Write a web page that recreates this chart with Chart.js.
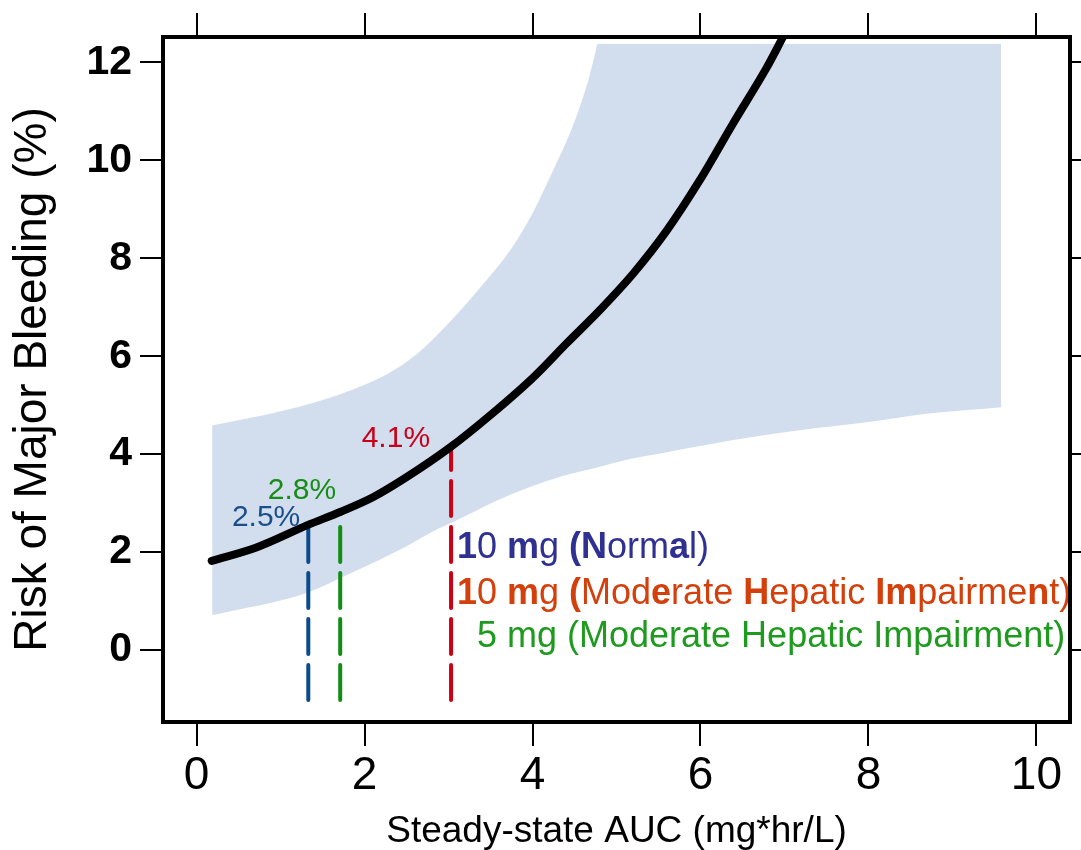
<!DOCTYPE html>
<html>
<head>
<meta charset="utf-8">
<script src="https://cdn.jsdelivr.net/npm/chart.js@4.4.1/dist/chart.umd.min.js"></script>
<style>
  html, body { margin: 0; padding: 0; background: #fff; }
  #wrap { width: 1081px; height: 850px; }
</style>
</head>
<body>
<div id="wrap"><canvas id="riskChart"></canvas></div>
<script>
// risk curve
const curveAuc  = [0.18, 0.72, 1.32, 1.71, 2.1, 2.5, 3.02, 3.5, 4.01, 4.41, 4.8, 5.2, 5.6, 5.99, 6.39, 6.79, 6.98];
const curveRisk = [1.82, 2.1, 2.55, 2.82, 3.12, 3.53, 4.14, 4.8, 5.57, 6.27, 6.94, 7.69, 8.57, 9.59, 10.76, 11.9, 12.51];

// confidence band
const bandUpAuc  = [0.185, 1.03, 1.71, 2.27, 2.62, 3.02, 3.41, 3.73, 4.0, 4.21, 4.47, 4.65, 4.74, 4.77, 9.58];
const bandUpRisk = [4.6, 4.9, 5.24, 5.65, 6.06, 6.73, 7.49, 8.18, 8.95, 9.7, 10.7, 11.6, 12.2, 12.39, 12.39];
const bandLoAuc  = [0.185, 1.3, 1.75, 2.5, 2.78, 3.17, 3.57, 3.97, 4.37, 4.77, 5.16, 5.6, 6.39, 7.18, 7.98, 8.77, 9.58];
const bandLoRisk = [0.71, 1.16, 1.5, 2.12, 2.39, 2.71, 3.05, 3.33, 3.56, 3.73, 3.9, 4.04, 4.29, 4.49, 4.65, 4.84, 4.96];

// dose markers (blue, green, red)
const doseAuc    = [1.33, 1.71, 3.03];
const doseTop    = [2.55, 2.62, 4.14];
const doseBottom = -1.02;
const doseLabels = ['2.5%', '2.8%', '4.1%'];

const legendLabels = ['10 mg (Normal)', '10 mg (Moderate Hepatic Impairment)', '5 mg (Moderate Hepatic Impairment)'];

const xTicks = [0, 2, 4, 6, 8, 10];
const yTicks = [0, 2, 4, 6, 8, 10, 12];

const xy = (xs, ys) => xs.map((x, i) => ({ x: x, y: ys[i] }));

const doseColors  = ['#0b4a8b', '#128c12', '#cc0014'];
const labelColors = ['#1a4f8c', '#178d17', '#c8001a'];

// drawn bottom -> top so the dash pattern starts at the bottom end
const doseSets = doseAuc.map((x, i) => ({
  data: [{ x: x, y: doseBottom }, { x: x, y: doseTop[i] }],
  showLine: true,
  borderColor: doseColors[i],
  borderWidth: 4,
  borderDash: [35, 11],
  borderCapStyle: 'round',
  pointRadius: 0,
  fill: false
}));

// text annotations + box + mirrored ticks
const decorPlugin = {
  id: 'decor',
  afterDatasetsDraw(chart) {
    const { ctx, chartArea: a, scales: { x, y } } = chart;
    ctx.save();

    // percent labels next to line tops
    const offs = [[-8, -7], [-4, -31], [-21, -9]];
    ctx.font = '30px "Liberation Sans", Arial, sans-serif';
    ctx.textAlign = 'right';
    ctx.textBaseline = 'middle';
    doseLabels.forEach((t, i) => {
      ctx.fillStyle = labelColors[i];
      ctx.fillText(t, x.getPixelForValue(doseAuc[i]) + offs[i][0], y.getPixelForValue(doseTop[i]) + offs[i][1]);
    });

    // legend block, some glyphs bold like the original
    const bolds = [
      [1, 0, 0, 1, 0, 0, 1, 1, 0, 0, 0, 1, 0, 0],
      [1, 0, 0, 1, 0, 0, 1, 0, 0, 0, 1, 0, 0, 0, 0, 0, 1, 0, 0, 0, 0, 0, 0, 0, 1, 1, 0, 0, 0, 0, 0, 0, 1, 0, 0],
      []
    ];
    const legColors = ['#2e3192', '#d4400c', '#1e9a1e'];
    const legX = [457, 457, 477];
    const legY = [548, 594, 637];
    ctx.textAlign = 'left';
    legendLabels.forEach((t, i) => {
      let px = legX[i];
      ctx.fillStyle = legColors[i];
      for (let k = 0; k < t.length; k++) {
        ctx.font = (bolds[i][k] ? 'bold ' : '') + '36px "Liberation Sans", Arial, sans-serif';
        ctx.fillText(t[k], px, legY[i]);
        px += ctx.measureText(t[k]).width;
      }
    });

    // mirrored ticks on top and right
    ctx.strokeStyle = '#000';
    ctx.lineWidth = 2;
    ctx.beginPath();
    xTicks.forEach(v => {
      const px = Math.round(x.getPixelForValue(v));
      ctx.moveTo(px, a.top);
      ctx.lineTo(px, a.top - 24);
    });
    yTicks.forEach(v => {
      const py = Math.round(y.getPixelForValue(v));
      ctx.moveTo(a.right, py);
      ctx.lineTo(a.right + 23, py);
    });
    ctx.stroke();

    // frame
    ctx.lineWidth = 4;
    ctx.strokeRect(a.left, a.top, a.right - a.left, a.bottom - a.top);
    ctx.restore();
  }
};

new Chart(document.getElementById('riskChart'), {
  type: 'scatter',
  data: {
    datasets: [
      {
        data: xy(curveAuc, curveRisk),
        showLine: true,
        borderColor: '#000',
        borderWidth: 8,
        borderCapStyle: 'round',
        borderJoinStyle: 'round',
        cubicInterpolationMode: 'monotone',
        pointRadius: 0,
        fill: false
      },
      ...doseSets,
      {
        data: xy(bandUpAuc, bandUpRisk),
        showLine: true,
        borderColor: 'rgba(255,255,255,0.9)',
        borderWidth: 1.5,
        backgroundColor: 'rgb(210,222,238)',
        cubicInterpolationMode: 'monotone',
        pointRadius: 0,
        fill: '+1'
      },
      {
        data: xy(bandLoAuc, bandLoRisk),
        showLine: true,
        borderColor: 'rgba(255,255,255,0.9)',
        borderWidth: 1.5,
        cubicInterpolationMode: 'monotone',
        pointRadius: 0,
        fill: false
      }
    ]
  },
  options: {
    responsive: true,
    maintainAspectRatio: false,
    animation: false,
    layout: { padding: { top: 37, right: 11, left: 0, bottom: 0 } },
    plugins: { legend: { display: false }, tooltip: { enabled: false } },
    scales: {
      x: {
        type: 'linear',
        min: -0.4,
        max: 10.4,
        afterFit: s => { s.height = 128; },
        border: { display: false },
        grid: { drawOnChartArea: false, tickLength: 24, color: '#000', lineWidth: 2 },
        ticks: {
          stepSize: 2,
          includeBounds: false,
          color: '#000',
          padding: 7,
          font: { family: '"Liberation Sans", Arial', size: 46, lineHeight: 1 }
        },
        title: {
          display: true,
          text: 'Steady-state AUC (mg*hr/L)',
          color: '#000',
          padding: 0,
          font: { family: '"Liberation Sans", Arial', size: 37, lineHeight: 1 }
        }
      },
      y: {
        min: -1.47,
        max: 12.52,
        afterFit: s => { s.width = 163; },
        border: { display: false },
        grid: { drawOnChartArea: false, tickLength: 23, color: '#000', lineWidth: 2 },
        ticks: {
          stepSize: 2,
          includeBounds: false,
          color: '#000',
          padding: 8,
          font: { family: '"Liberation Sans", Arial', size: 41, weight: 'bold', lineHeight: 1 }
        },
        title: {
          display: true,
          text: 'Risk of Major Bleeding (%)',
          color: '#000',
          padding: { top: 10, bottom: 0 },
          font: { family: '"Liberation Sans", Arial', size: 46, lineHeight: 1 }
        }
      }
    }
  },
  plugins: [decorPlugin]
});
</script>
</body>
</html>
